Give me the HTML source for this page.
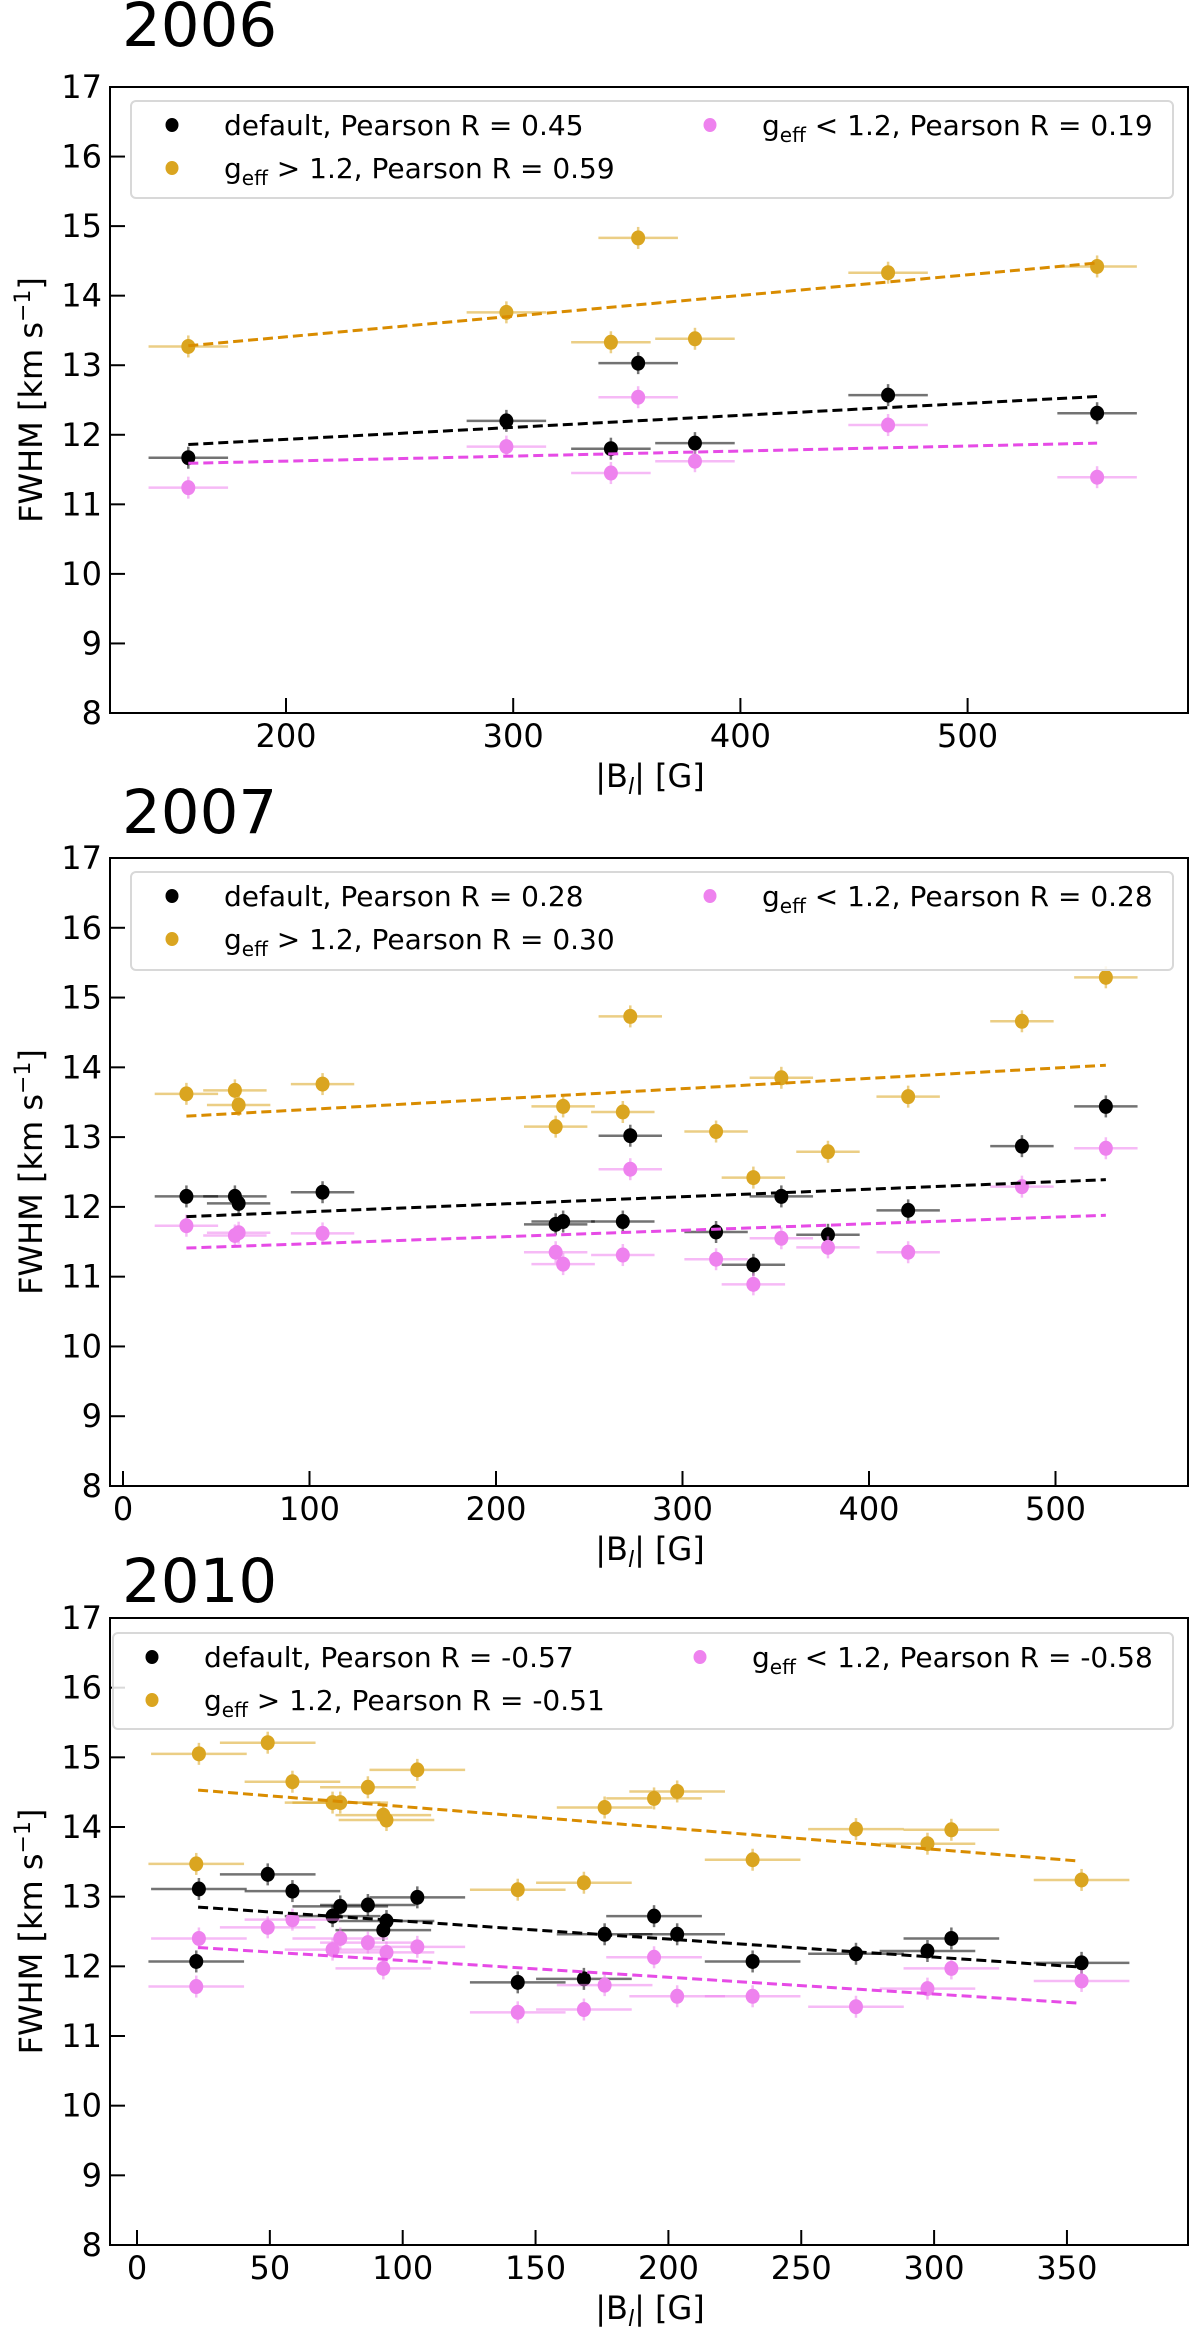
<!DOCTYPE html>
<html><head><meta charset="utf-8"><style>
html,body{margin:0;padding:0;background:#fff;}
svg{display:block;font-family:"DejaVu Sans","Liberation Sans",sans-serif;}
</style></head><body>
<svg id="fig" width="1200" height="2341" viewBox="0 0 1200 2341" xmlns="http://www.w3.org/2000/svg"></svg>
<script>
// ---- 2006 data ----
const x2006 = [157, 297, 343, 355, 380, 465, 557];
const def2006 = [11.67, 12.20, 11.80, 13.03, 11.88, 12.57, 12.31];
const hi2006 = [13.27, 13.76, 13.33, 14.83, 13.38, 14.33, 14.42];
const lo2006 = [11.24, 11.83, 11.45, 12.54, 11.62, 12.14, 11.39];
const fitX2006 = [157, 557];
const fitDef2006 = [11.86, 12.55];
const fitHi2006 = [13.28, 14.47];
const fitLo2006 = [11.59, 11.88];
const xTicks2006 = [200, 300, 400, 500];
const legend2006 = ["0.45", "0.59", "0.19"];
// ---- 2007 data ----
const x2007 = [34, 60, 62, 107, 232, 236, 268, 272, 318, 338, 353, 378, 421, 482, 527];
const def2007 = [12.15, 12.15, 12.05, 12.21, 11.75, 11.79, 11.79, 13.02, 11.64, 11.17, 12.15, 11.60, 11.95, 12.87, 13.44];
const hi2007 = [13.62, 13.67, 13.46, 13.76, 13.15, 13.44, 13.36, 14.73, 13.08, 12.42, 13.85, 12.79, 13.58, 14.66, 15.29];
const lo2007 = [11.73, 11.59, 11.63, 11.62, 11.35, 11.18, 11.31, 12.54, 11.25, 10.89, 11.55, 11.42, 11.35, 12.29, 12.84];
const fitX2007 = [34, 527];
const fitDef2007 = [11.86, 12.39];
const fitHi2007 = [13.30, 14.03];
const fitLo2007 = [11.41, 11.88];
const xTicks2007 = [0, 100, 200, 300, 400, 500];
const legend2007 = ["0.28", "0.30", "0.28"];
// ---- 2010 data ----
const x2010 = [22.3, 23.3, 49.2, 58.5, 73.6, 76.5, 86.9, 92.7, 93.9, 105.5, 143.3, 168.2, 176, 194.6, 203.3, 231.7, 270.6, 297.5, 306.5, 355.5];
const def2010 = [12.07, 13.11, 13.32, 13.08, 12.72, 12.86, 12.88, 12.52, 12.65, 12.99, 11.77, 11.82, 12.46, 12.72, 12.46, 12.07, 12.18, 12.22, 12.40, 12.05];
const hi2010 = [13.47, 15.05, 15.21, 14.65, 14.35, 14.35, 14.57, 14.17, 14.10, 14.82, 13.10, 13.20, 14.28, 14.41, 14.51, 13.53, 13.97, 13.76, 13.96, 13.24];
const lo2010 = [11.71, 12.40, 12.56, 12.67, 12.24, 12.40, 12.34, 11.97, 12.20, 12.28, 11.34, 11.38, 11.73, 12.13, 11.57, 11.57, 11.42, 11.68, 11.97, 11.79];
const fitX2010 = [23, 355];
const fitDef2010 = [12.85, 11.99];
const fitHi2010 = [14.53, 13.51];
const fitLo2010 = [12.27, 11.47];
const xTicks2010 = [0, 50, 100, 150, 200, 250, 300, 350];
const legend2010 = ["-0.57", "-0.51", "-0.58"];
const yTicks = [8, 9, 10, 11, 12, 13, 14, 15, 16, 17];

const NS = "http://www.w3.org/2000/svg";
const svg = document.getElementById('fig');
function mk(tag, attrs, parent, text) {
  const e = document.createElementNS(NS, tag);
  for (const k in attrs) e.setAttribute(k, attrs[k]);
  if (text !== undefined) e.textContent = text;
  (parent || svg).appendChild(e);
  return e;
}
const COL = {def: "#000000", hi: "#DAA520", lo: "#EE82EE"};
const FIT = {def: "#000000", hi: "#D98C00", lo: "#E64BE6"};

function panel(cfg) {
  const g = mk('g', {});
  
  
  const L = 110, R = 1188, T = cfg.top, B = cfg.bottom;
  const sx = v => cfg.x0px + (v - cfg.x0) * cfg.pxPer;
  const sy = v => B - (v - 8) * (B - T) / 9;
  const title = mk('text', {x: 122, y: cfg.titleY, 'font-size': 61}, g, String(cfg.year));
  
  
  // ticks
  yTicks.forEach(t => {
    const y = sy(t);
    if (t > 8 && t < 17) mk('line', {x1: L, x2: L + 15, y1: y, y2: y, stroke: '#000', 'stroke-width': 2}, g);
    const lb = mk('text', {x: 102, y: y + 11, 'font-size': 32, 'text-anchor': 'end'}, g, String(t));
    
    
  });
  cfg.xTicks.forEach(t => {
    const x = sx(t);
    mk('line', {x1: x, x2: x, y1: B, y2: B - 15, stroke: '#000', 'stroke-width': 2}, g);
    const lb = mk('text', {x: x, y: B + 34, 'font-size': 32, 'text-anchor': 'middle'}, g, String(t));
    
    
  });
  // axis labels
  const xl = mk('text', {x: 650, y: B + 74, 'font-size': 32, 'text-anchor': 'middle'}, g);
  
  
  mk('tspan', {}, xl, '|B');
  mk('tspan', {'font-size': 22, dy: 7, 'font-style': 'italic'}, xl, 'l');
  mk('tspan', {dy: -7}, xl, '| [G]');
  const yc = (T + B) / 2;
  const yl = mk('text', {x: 0, y: 0, 'font-size': 32, 'text-anchor': 'middle', transform: `translate(42,${yc}) rotate(-90)`}, g);
  
  
  mk('tspan', {}, yl, 'FWHM [km s');
  mk('tspan', {'font-size': 22, dy: -12}, yl, '−1');
  mk('tspan', {dy: 12}, yl, ']');
  // series
  const series = [['def', cfg.def, cfg.fitDef], ['hi', cfg.hi, cfg.fitHi], ['lo', cfg.lo, cfg.fitLo]];
  series.forEach(([k, ys]) => {
    ys.forEach((v, i) => {
      const cx = sx(cfg.x[i]), cy = sy(v);
      mk('line', {x1: sx(cfg.x[i] - cfg.xerr), x2: sx(cfg.x[i] + cfg.xerr), y1: cy, y2: cy, stroke: COL[k], 'stroke-width': 2.5, 'stroke-opacity': 0.55}, g);
      mk('line', {x1: cx, x2: cx, y1: cy - 11, y2: cy + 11, stroke: COL[k], 'stroke-width': 2.5, 'stroke-opacity': 0.55}, g);
      const c = mk('ellipse', {cx: cx, cy: cy, rx: 7, ry: 7.5, fill: COL[k]}, g);
      
      
    });
  });
  series.forEach(([k, , fit]) => {
    const l = mk('line', {x1: sx(cfg.fitX[0]), x2: sx(cfg.fitX[1]), y1: sy(fit[0]), y2: sy(fit[1]), stroke: FIT[k], 'stroke-width': 3, 'stroke-dasharray': '10,5'}, g);
    
    
  });
  // frame
  mk('rect', {x: L, y: T, width: R - L, height: B - T, fill: 'none', stroke: '#000', 'stroke-width': 2}, g);
  // legend
  const lg = mk('g', {}, g);
  
  
  mk('rect', {x: cfg.lgX, y: cfg.lgTop, width: 1173 - cfg.lgX, height: cfg.lgBot - cfg.lgTop, rx: 5, fill: '#fff', 'fill-opacity': 0.85, stroke: '#d8d8d8', 'stroke-width': 2}, lg);
  const r1 = cfg.lgTop + 24, r2 = cfg.lgTop + 67;
  const entries = [
    [COL.def, cfg.lgM1, r1, null, 'default, Pearson R = ' + cfg.leg[0]],
    [COL.hi, cfg.lgM1, r2, '>', ' 1.2, Pearson R = ' + cfg.leg[1]],
    [COL.lo, cfg.lgM2, r1, '<', ' 1.2, Pearson R = ' + cfg.leg[2]]
  ];
  entries.forEach(([c, mx, ry, op, txt]) => {
    const e = mk('g', {}, lg);
    
    
    mk('ellipse', {cx: mx, cy: ry, rx: 6.5, ry: 7, fill: c}, e);
    const t = mk('text', {x: mx + 52, y: ry + 10, 'font-size': 28}, e);
    if (op) {
      mk('tspan', {}, t, 'g');
      mk('tspan', {'font-size': 20, dy: 7}, t, 'eff');
      mk('tspan', {dy: -7}, t, ' ' + op + txt);
    } else t.textContent = txt;
  });
}

panel({year: 2006, top: 87, bottom: 713, titleY: 46, x: x2006, def: def2006, hi: hi2006, lo: lo2006,
  fitX: fitX2006, fitDef: fitDef2006, fitHi: fitHi2006, fitLo: fitLo2006, xTicks: xTicks2006, leg: legend2006,
  x0: 200, x0px: 286, pxPer: 2.272, xerr: 17.5, lgX: 131, lgTop: 101, lgBot: 198, lgM1: 172, lgM2: 710});
panel({year: 2007, top: 858, bottom: 1486, titleY: 833, x: x2007, def: def2007, hi: hi2007, lo: lo2007,
  fitX: fitX2007, fitDef: fitDef2007, fitHi: fitHi2007, fitLo: fitLo2007, xTicks: xTicks2007, leg: legend2007,
  x0: 0, x0px: 123, pxPer: 1.865, xerr: 17, lgX: 131, lgTop: 872, lgBot: 970, lgM1: 172, lgM2: 710});
panel({year: 2010, top: 1618, bottom: 2245, titleY: 1602, x: x2010, def: def2010, hi: hi2010, lo: lo2010,
  fitX: fitX2010, fitDef: fitDef2010, fitHi: fitHi2010, fitLo: fitLo2010, xTicks: xTicks2010, leg: legend2010,
  x0: 0, x0px: 137, pxPer: 2.657, xerr: 18, lgX: 113, lgTop: 1633, lgBot: 1729, lgM1: 152, lgM2: 700});
</script>
</body></html>
